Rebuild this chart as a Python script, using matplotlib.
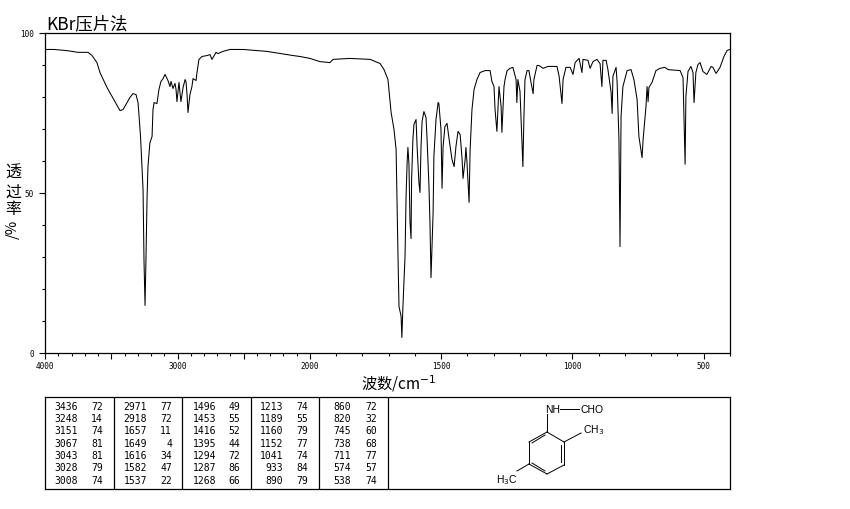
import numpy as np
import matplotlib
matplotlib.use('Agg')
import matplotlib.pyplot as plt
from matplotlib.ticker import FixedLocator, FixedFormatter

plt.rcParams['font.family'] = ['Noto Sans CJK SC', 'DejaVu Sans']

# IR spectrum.
wavenumber = [4000, 3932, 3849, 3796, 3751, 3675, 3645, 3608, 3585, 3532, 3472, 3434, 3411, 3359, 3336, 3313, 3298,
              3291, 3279, 3272, 3260, 3253, 3245, 3238, 3230, 3223, 3208, 3192, 3185, 3177, 3155, 3140, 3125, 3109,
              3094, 3072, 3057, 3049, 3034, 3019, 3011, 3004, 2996, 2989, 2974, 2958, 2943, 2936, 2928, 2921, 2906,
              2891, 2883, 2860, 2853, 2838, 2815, 2777, 2755, 2740, 2709, 2694, 2657, 2604, 2506, 2325, 2128, 2075,
              2000, 1962, 1924, 1912, 1848, 1771, 1733, 1718, 1703, 1691, 1680, 1672, 1669, 1665, 1661, 1653, 1650,
              1646, 1638, 1634, 1630, 1627, 1623, 1619, 1615, 1613, 1608, 1604, 1596, 1592, 1585, 1581, 1577, 1573,
              1566, 1558, 1554, 1547, 1543, 1539, 1531, 1528, 1520, 1512, 1509, 1501, 1497, 1493, 1486, 1478, 1470,
              1459, 1451, 1444, 1436, 1428, 1421, 1417, 1409, 1406, 1402, 1394, 1390, 1383, 1375, 1364, 1352, 1333,
              1314, 1307, 1299, 1295, 1288, 1280, 1272, 1269, 1261, 1257, 1249, 1238, 1227, 1215, 1212, 1208, 1200,
              1189, 1185, 1181, 1173, 1166, 1158, 1150, 1147, 1135, 1128, 1112, 1093, 1059, 1051, 1040, 1036, 1025,
              1009, 998, 990, 975, 964, 960, 941, 933, 922, 907, 895, 888, 884, 872, 865, 853, 849, 846, 834, 830,
              823, 819, 815, 808, 792, 777, 766, 754, 747, 735, 731, 720, 716, 712, 709, 697, 682, 667, 648, 636,
              590, 579, 571, 568, 560, 549, 541, 537, 530, 522, 514, 503, 488, 472, 465, 453, 438, 423, 411, 400]
transmittance = [94.7, 94.7, 94.4, 94.1, 93.8, 93.8, 92.8, 90.6, 87.5, 82.8, 78.4, 75.6, 75.9, 79.7, 80.9, 80.6, 78.1,
                 74.4, 67.5, 61.3, 50.9, 29.1, 14.7, 29.1, 47.8, 58.1, 65.6, 67.5, 75.9, 78.1, 77.8, 82.2, 84.7, 85.6,
                 86.9, 85.0, 83.1, 84.7, 82.5, 84.1, 82.2, 78.4, 81.6, 84.4, 78.4, 82.8, 85.3, 84.7, 80.6, 75.0, 80.6,
                 83.1, 85.6, 85.0, 87.5, 91.6, 92.5, 92.8, 93.1, 91.6, 93.8, 93.4, 94.1, 94.7, 94.7, 94.1, 92.8, 92.5,
                 91.9, 90.9, 90.6, 91.6, 91.9, 91.6, 90.3, 88.4, 85.3, 75.0, 69.7, 63.4, 48.8, 31.3, 14.4, 11.3, 4.7,
                 14.4, 30.0, 48.8, 59.4, 64.1, 58.8, 40.6, 35.6, 54.0, 66.6, 71.3, 72.8, 64.4, 53.1, 50.0, 64.4, 72.2,
                 75.3, 73.4, 66.6, 52.5, 40.6, 23.4, 43.8, 61.3, 72.8, 78.1, 77.8, 69.7, 51.3, 64.4, 70.6, 71.6, 66.6,
                 60.3, 58.1, 64.4, 69.1, 68.1, 60.9, 54.4, 60.3, 64.1, 59.4, 46.9, 63.4, 75.9, 82.2, 85.3, 87.5, 88.1,
                 88.1, 84.7, 83.1, 75.9, 69.1, 83.1, 76.9, 68.8, 83.1, 85.3, 88.1, 88.8, 89.1, 85.3, 78.1, 85.3, 81.6,
                 58.1, 73.8, 85.3, 88.1, 88.1, 84.4, 80.9, 85.3, 89.7, 89.7, 88.8, 89.4, 89.4, 86.3, 77.8, 85.3, 89.1,
                 89.1, 86.9, 90.6, 91.9, 87.5, 91.6, 91.3, 88.8, 90.9, 91.6, 90.3, 83.1, 91.3, 91.3, 88.4, 81.3, 74.7, 86.3, 89.1, 84.4,
                 66.6, 33.1, 73.8, 83.1, 88.1, 88.4, 85.3, 79.1, 67.5, 60.9, 66.6, 76.9, 83.1, 78.4, 82.8, 84.4, 88.1, 88.8, 89.1, 88.4,
                 88.1, 85.9, 58.8, 80.0, 87.8, 89.4, 87.5, 78.1, 87.5, 90.0, 90.6, 87.8, 86.9, 89.4, 89.1, 87.2, 89.1, 92.5, 94.4, 94.7]

x_major = [4000, 3500, 3000, 2500, 2000, 1500, 1000, 500]
x_major_labels = ['4000', '', '3000', '', '2000', '1500', '1000', '500']
x_minor = list(range(400, 4000, 100))
y_major = [0, 50, 100]
y_minor = list(range(0, 101, 10))

# Peak table, one list per column of the printed table.
peak_wn = [
    [3436, 3248, 3151, 3067, 3043, 3028, 3008],
    [2971, 2918, 1657, 1649, 1616, 1582, 1537],
    [1496, 1453, 1416, 1395, 1294, 1287, 1268],
    [1213, 1189, 1160, 1152, 1041, 933, 890],
    [860, 820, 745, 738, 711, 574, 538],
]
peak_t = [
    [72, 14, 74, 81, 81, 79, 74],
    [77, 72, 11, 4, 34, 47, 22],
    [49, 55, 52, 44, 72, 86, 66],
    [74, 55, 79, 77, 74, 84, 79],
    [72, 32, 60, 68, 77, 57, 74],
]
wn_right = [78, 147, 216, 283, 351]
t_right = [103, 172, 240, 308, 377]
col_lines = [114, 182, 251, 319, 388]
row_y = [407, 419, 431.5, 444, 456, 468.5, 481]

# Structure drawing, in pixels of the lower panel.
bonds = [((560, 410), (579, 410)), ((547, 415), (547, 433)),
         ((547, 433), (564, 443)), ((564, 443), (564, 466)), ((564, 466), (547, 475)),
         ((547, 475), (529, 465)), ((529, 465), (529, 443)), ((529, 443), (547, 433)),
         ((564, 443), (581, 434)), ((529, 465), (517, 472)),
         ((561, 446), (561, 463)), ((545, 472), (532, 464)), ((532, 444), (545, 436))]


# The axis changes scale at 2000 (265 px above it, 420 px below).
def forward(x):
    x = np.asarray(x, dtype=float)
    return np.where(x >= 2000, 420 + (x - 2000) * 265 / 2000, (x - 400) * 420 / 1600)


def inverse(p):
    p = np.asarray(p, dtype=float)
    return np.where(p >= 420, 2000 + (p - 420) * 2000 / 265, 400 + p * 1600 / 420)


W, H = 850, 510
fig = plt.figure(figsize=(W / 100, H / 100), dpi=100, facecolor='white')

ax = fig.add_axes([45 / W, 1 - 353.5 / H, 685 / W, 320 / H])
ax.plot(wavenumber, transmittance, color='black', lw=0.75)
ax.set_xscale('function', functions=(forward, inverse))
ax.set_xlim(4000, 400)
ax.set_ylim(0, 100)
for s in ax.spines.values():
    s.set_linewidth(0.9)

ax.xaxis.set_major_locator(FixedLocator(x_major))
ax.xaxis.set_major_formatter(FixedFormatter(x_major_labels))
ax.xaxis.set_minor_locator(FixedLocator(x_minor))
ax.xaxis.set_minor_formatter(FixedFormatter([]))
ax.yaxis.set_major_locator(FixedLocator(y_major))
ax.yaxis.set_major_formatter(FixedFormatter(['0', '50', '100']))
ax.yaxis.set_minor_locator(FixedLocator(y_minor))
ax.yaxis.set_minor_formatter(FixedFormatter([]))
ax.tick_params(which='major', length=4, width=0.8, pad=2, labelsize=5.5, labelfontfamily='DejaVu Sans Mono')
ax.tick_params(which='minor', length=2, width=0.8)
ax.tick_params(axis='y', which='major', pad=4)

fig.text(46 / W, 1 - 24 / H, 'KBr压片法', fontsize=12.5, va='center', ha='left')
fig.text(399 / W, 1 - 384 / H, '波数/cm$^{-1}$', fontsize=11, va='center', ha='center')
for ch, py in zip('透过率', [173, 192, 210]):
    fig.text(13 / W, 1 - py / H, ch, fontsize=11.5, va='center', ha='center')
fig.text(13 / W, 1 - 229 / H, '/%', fontsize=10.5, va='center', ha='center', rotation=90)

tab = fig.add_axes([45 / W, 1 - 489.5 / H, 685 / W, 92 / H])
tab.set_xlim(45, 730)
tab.set_ylim(489.5, 397.5)
tab.set_xticks([])
tab.set_yticks([])
for s in tab.spines.values():
    s.set_linewidth(0.9)
for cx in col_lines:
    tab.axvline(cx, color='black', lw=0.9)
for i in range(len(peak_wn)):
    for j in range(len(row_y)):
        tab.text(wn_right[i], row_y[j], str(peak_wn[i][j]), ha='right', va='center',
                 fontsize=7, family='DejaVu Sans Mono')
        tab.text(t_right[i], row_y[j], str(peak_t[i][j]), ha='right', va='center',
                 fontsize=7, family='DejaVu Sans Mono')

for a, b in bonds:
    tab.plot([a[0], b[0]], [a[1], b[1]], color='black', lw=0.7)
tab.text(553, 410, 'NH', ha='center', va='center', fontsize=7.5, family='Liberation Sans')
tab.text(581, 410, 'CHO', ha='left', va='center', fontsize=7.5, family='Liberation Sans')
tab.text(583, 430, 'CH$_3$', ha='left', va='center', fontsize=7.5, family='Liberation Sans')
tab.text(496, 480, 'H$_3$C', ha='left', va='center', fontsize=7.5, family='Liberation Sans')

fig.savefig('out.png', dpi=100, facecolor='white')
